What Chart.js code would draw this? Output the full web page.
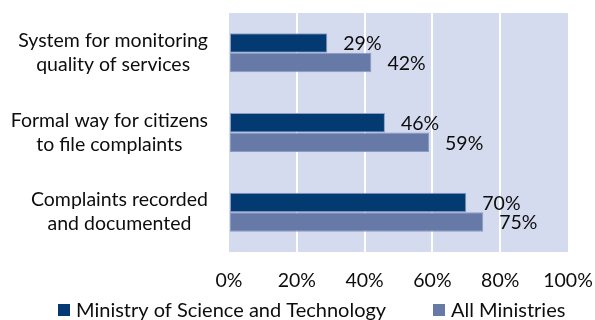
<!DOCTYPE html>
<html>
<head>
<meta charset="utf-8">
<script src="https://cdn.jsdelivr.net/npm/chart.js@4"></script>
<style>
  html, body { margin: 0; padding: 0; background: #ffffff; }
  #wrap { width: 595px; height: 320px; position: relative; }
</style>
</head>
<body>
<div id="wrap"><canvas id="chart" width="595" height="320"></canvas></div>
<script>
// Survey items (each item's lines are centred within its own block)
const categories = [
  ["System for monitoring", "quality of services"],
  ["Formal way for citizens", "to file complaints"],
  ["Complaints recorded", "and documented"]
];
const seriesNames = ["Ministry of Science and Technology", "All Ministries"];
const scienceTech = [29, 46, 70];
const allMinistries = [42, 59, 75];
const xTicks = [0, 20, 40, 60, 80, 100];

const FONT = "Lato, 'Open Sans', sans-serif";
const FONT_SIZE = 19.5;
const LEGEND_SIZE = 20;
const COLORS = ["#033a72", "#6779a6"];
const BORDER = "#8a9cc6";
const PLOT_BG = "#d5dbee";
const TEXT = "#0d0d0d";

// Fills the plotting area behind the bars
const plotBackground = {
  id: "plotBackground",
  beforeDraw(chart) {
    const { ctx, chartArea: a } = chart;
    ctx.save();
    ctx.fillStyle = PLOT_BG;
    ctx.fillRect(a.left, a.top, a.right - a.left, a.bottom - a.top);
    ctx.restore();
  }
};

// Category labels, value labels and the legend row
const annotations = {
  id: "annotations",
  afterDatasetsDraw(chart) {
    const { ctx, chartArea: a } = chart;
    const y = chart.scales.y;
    ctx.save();
    ctx.fillStyle = TEXT;
    ctx.font = FONT_SIZE + "px " + FONT;
    ctx.textBaseline = "middle";

    // category labels: block right-aligned, lines centred in block
    const lineH = 24;
    categories.forEach((lines, i) => {
      const cy = y.getPixelForValue(i);
      const w = Math.max(...lines.map(l => ctx.measureText(l).width));
      const right = a.left - 21;
      const cx = right - w / 2;
      ctx.textAlign = "center";
      lines.forEach((l, j) => {
        ctx.fillText(l, cx, cy + (j - (lines.length - 1) / 2) * lineH);
      });
    });

    // value labels beside each bar
    ctx.textAlign = "left";
    chart.data.datasets.forEach((ds, di) => {
      chart.getDatasetMeta(di).data.forEach((bar, i) => {
        ctx.fillText(ds.data[i] + "%", bar.x + 16, bar.y + 1);
      });
    });

    // legend
    ctx.font = LEGEND_SIZE + "px " + FONT;
    const legendY = 310;
    const items = [{ x: 58 }, { x: 433 }];
    chart.data.datasets.forEach((ds, di) => {
      const x = items[di].x;
      ctx.fillStyle = ds.backgroundColor;
      ctx.fillRect(x, legendY - 6, 12, 12);
      ctx.fillStyle = TEXT;
      ctx.fillText(ds.label, x + 18, legendY + 1);
    });
    ctx.restore();
  }
};

new Chart(document.getElementById("chart"), {
  type: "bar",
  data: {
    labels: categories,
    datasets: [
      { label: seriesNames[0], data: scienceTech, backgroundColor: COLORS[0] },
      { label: seriesNames[1], data: allMinistries, backgroundColor: COLORS[1] }
    ]
  },
  options: {
    indexAxis: "y",
    responsive: false,
    animation: false,
    devicePixelRatio: 1,
    layout: { padding: { left: 229, right: 27, top: 13, bottom: 0 } },
    datasets: {
      bar: {
        barPercentage: 1,
        categoryPercentage: 0.49,
        borderWidth: 1,
        borderColor: BORDER,
        borderSkipped: false
      }
    },
    plugins: {
      legend: { display: false },
      tooltip: { enabled: false }
    },
    scales: {
      x: {
        min: 0,
        max: 100,
        afterBuildTicks(s) { s.ticks = xTicks.map(v => ({ value: v })); },
        afterFit(s) { s.height = 68; s.paddingLeft = 0; s.paddingRight = 0; },
        border: { display: false },
        grid: {
          drawTicks: false,
          lineWidth: 2,
          color: c => (c.tick && (c.tick.value === 0 || c.tick.value === 100)) ? "rgba(0,0,0,0)" : "#ffffff"
        },
        ticks: {
          padding: 17,
          color: TEXT,
          font: { family: FONT, size: FONT_SIZE },
          callback: v => v + "%"
        }
      },
      y: {
        border: { display: false },
        grid: { display: false, drawTicks: false },
        ticks: { display: false },
        afterFit(s) { s.width = 0; }
      }
    }
  },
  plugins: [plotBackground, annotations]
});
</script>
</body>
</html>
